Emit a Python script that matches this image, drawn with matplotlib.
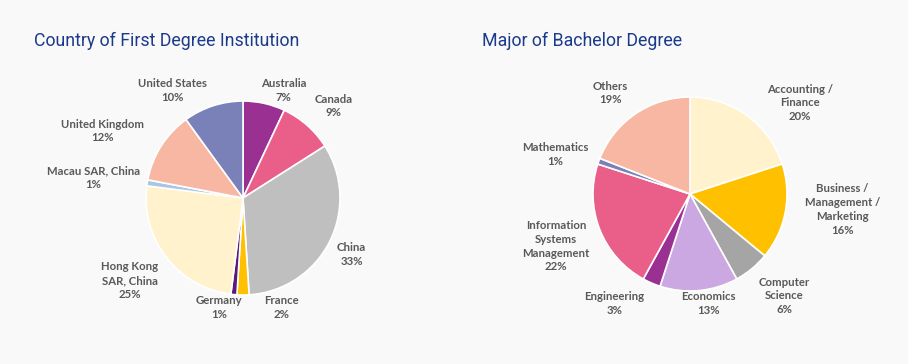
import matplotlib
matplotlib.use("Agg")
import matplotlib.pyplot as plt
import numpy as np

# ---- Data ----
COUNTRY_LABELS = [
    "Australia", "Canada", "China", "France", "Germany",
    "Hong Kong\nSAR, China", "Macau SAR, China", "United Kingdom", "United States",
]
COUNTRY_SHARES = [7, 9, 33, 2, 1, 25, 1, 12, 10]

MAJOR_LABELS = [
    "Accounting /\nFinance", "Business /\nManagement /\nMarketing", "Computer\nScience",
    "Economics", "Engineering", "Information\nSystems\nManagement", "Mathematics", "Others",
]
MAJOR_SHARES = [20, 16, 6, 13, 3, 22, 1, 19]

# ---- Styling ----
COUNTRY_COLORS = ["#993092", "#E95F8A", "#BFBFBF", "#FFC000", "#5A1A7A",
                  "#FFF2CC", "#A7C7E3", "#F7B7A2", "#7A81B9"]
MAJOR_COLORS = ["#FFF2CC", "#FFC000", "#A5A5A5", "#CBA8E2",
                "#993092", "#E95F8A", "#7A81B9", "#F7B7A2"]

# label positions in units of pie radius
COUNTRY_LABEL_POS = [(0.42, 1.11), (0.93, 0.95), (1.12, -0.58), (0.40, -1.13), (-0.25, -1.13),
                     (-1.17, -0.85), (-1.54, 0.21), (-1.45, 0.69), (-0.73, 1.11)]
MAJOR_LABEL_POS = [(1.13, 0.94), (1.57, -0.16), (0.97, -1.05), (0.19, -1.13),
                   (-0.78, -1.13), (-1.38, -0.54), (-1.39, 0.41), (-0.82, 1.04)]

BG = "#F9F9F9"
TITLE_COLOR = "#1B3A8A"
LABEL_COLOR = "#595959"
FIG_W, FIG_H = 908, 364
RADIUS_PX = 97
K = 1.8


def make_pie_axes(fig, cx, cy):
    side = 2 * K * RADIUS_PX
    rect = [(cx - side / 2) / FIG_W, 1 - (cy + side / 2) / FIG_H, side / FIG_W, side / FIG_H]
    ax = fig.add_axes(rect)
    ax.set_xlim(-K, K)
    ax.set_ylim(-K, K)
    ax.axis("off")
    return ax


def draw_pie(ax, labels, shares, colors, label_pos):
    ax.pie(shares, colors=colors, startangle=90, counterclock=False, radius=1,
           wedgeprops=dict(edgecolor="white", linewidth=1.2))
    ax.set_xlim(-K, K)
    ax.set_ylim(-K, K)
    for label, share, (x, y) in zip(labels, shares, label_pos):
        ax.text(x, y, f"{label}\n{share}%", ha="center", va="center",
                fontsize=8.2, fontweight="bold", family="Lato", color=LABEL_COLOR,
                linespacing=1.3)


fig = plt.figure(figsize=(FIG_W / 100, FIG_H / 100), dpi=100, facecolor=BG)

ax_left = make_pie_axes(fig, 243, 198)
draw_pie(ax_left, COUNTRY_LABELS, COUNTRY_SHARES, COUNTRY_COLORS, COUNTRY_LABEL_POS)

ax_right = make_pie_axes(fig, 690, 194)
draw_pie(ax_right, MAJOR_LABELS, MAJOR_SHARES, MAJOR_COLORS, MAJOR_LABEL_POS)

fig.text(34 / FIG_W, 1 - 46 / FIG_H, "Country of First Degree Institution",
         fontsize=12.8, family="Roboto", color=TITLE_COLOR, ha="left", va="baseline")
fig.text(482 / FIG_W, 1 - 46 / FIG_H, "Major of Bachelor Degree",
         fontsize=12.8, family="Roboto", color=TITLE_COLOR, ha="left", va="baseline")

fig.savefig("out.png", dpi=100, facecolor=BG)
